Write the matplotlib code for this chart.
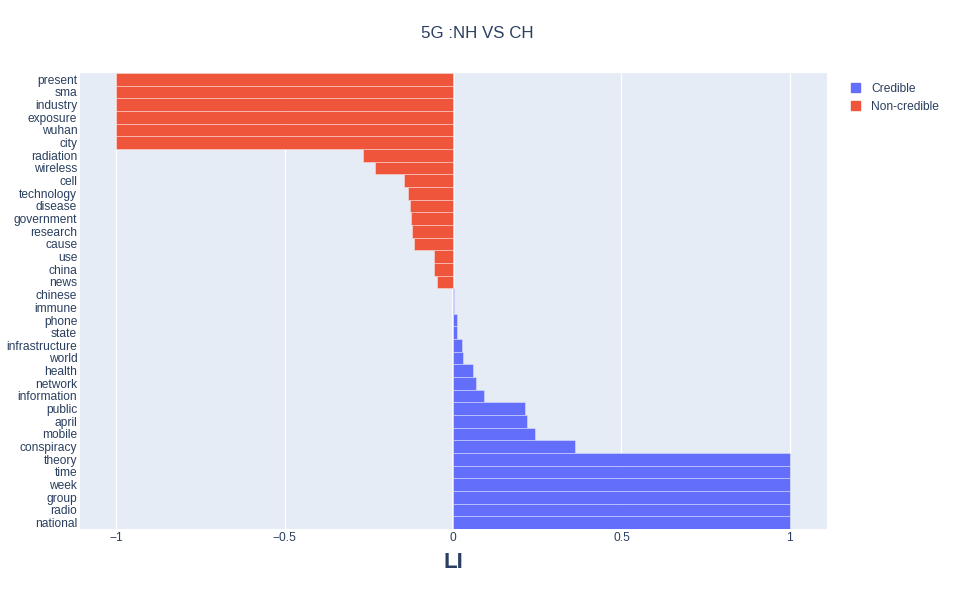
import matplotlib
matplotlib.use("Agg")
import matplotlib.pyplot as plt
from matplotlib.patches import Patch

plt.rcParams['font.family'] = ['Liberation Sans', 'DejaVu Sans']

# Data (top to bottom)
noncred_words = ["present", "sma", "industry", "exposure", "wuhan", "city", "radiation",
                 "wireless", "cell", "technology", "disease", "government", "research",
                 "cause", "use", "china", "news"]
noncred_vals = [-1, -1, -1, -1, -1, -1, -0.268, -0.230, -0.146, -0.134, -0.128, -0.126,
                -0.122, -0.117, -0.057, -0.055, -0.047]
cred_words = ["chinese", "immune", "phone", "state", "infrastructure", "world", "health",
              "network", "information", "public", "april", "mobile", "conspiracy",
              "theory", "time", "week", "group", "radio", "national"]
cred_vals = [0.002, 0.002, 0.013, 0.012, 0.026, 0.030, 0.058, 0.067, 0.092, 0.215, 0.221,
             0.243, 0.361, 1, 1, 1, 1, 1, 1]
xticks = [-1, -0.5, 0, 0.5, 1]
xticklabels = ["\u22121", "\u22120.5", "0", "0.5", "1"]

BLUE = "#636EFA"
RED = "#EF553B"
TXT = "#2a3f5f"
BG = "#E5ECF6"

all_words = noncred_words + cred_words
n = len(all_words)
pos = {w: n - 1 - i for i, w in enumerate(all_words)}

fig = plt.figure(figsize=(9.55, 5.92), dpi=100)
ax = fig.add_axes([80/955, 1-529/592, (827-80)/955, (529-73)/592])
ax.set_facecolor(BG)

for x in xticks:
    ax.axvline(x, color="white", lw=1.0 if x != 0 else 2.0, zorder=0)

ax.barh([pos[w] for w in cred_words], cred_vals, height=1.0, color=BLUE,
        edgecolor=(1, 1, 1, 0.5), linewidth=0.5, zorder=2, label="Credible")
ax.barh([pos[w] for w in noncred_words], noncred_vals, height=1.0, color=RED,
        edgecolor=(1, 1, 1, 0.5), linewidth=0.5, zorder=2, label="Non-credible")

ax.set_xlim(-1.107, 1.11)
ax.set_ylim(-0.5, n - 0.5)
ax.set_yticks(range(n))
ax.set_yticklabels(list(reversed(all_words)))
ax.set_xticks(xticks)
ax.set_xticklabels(xticklabels)
ax.tick_params(axis='both', length=0, labelsize=8.64, colors=TXT)
ax.tick_params(axis='x', pad=2.5)
ax.tick_params(axis='y', pad=2)
for s in ax.spines.values():
    s.set_visible(False)

fig.text(477/955, 1-33/592, "5G :NH VS CH", ha="center", va="center", fontsize=12.2, color=TXT)
fig.text(453/955, 1-563/592, "LI", ha="center", va="center", fontsize=16, color=TXT,
         fontweight="bold")

handles = [Patch(facecolor=BLUE, edgecolor=BLUE), Patch(facecolor=RED, edgecolor=RED)]
fig.legend(handles, ["Credible", "Non-credible"], loc="upper left",
           bbox_to_anchor=(840/955, 1-72/592), frameon=False, fontsize=8.64,
           handlelength=0.8, handleheight=0.8, handletextpad=0.9, labelspacing=0.5,
           labelcolor=TXT)

fig.savefig("out.png", dpi=100, facecolor="white")
